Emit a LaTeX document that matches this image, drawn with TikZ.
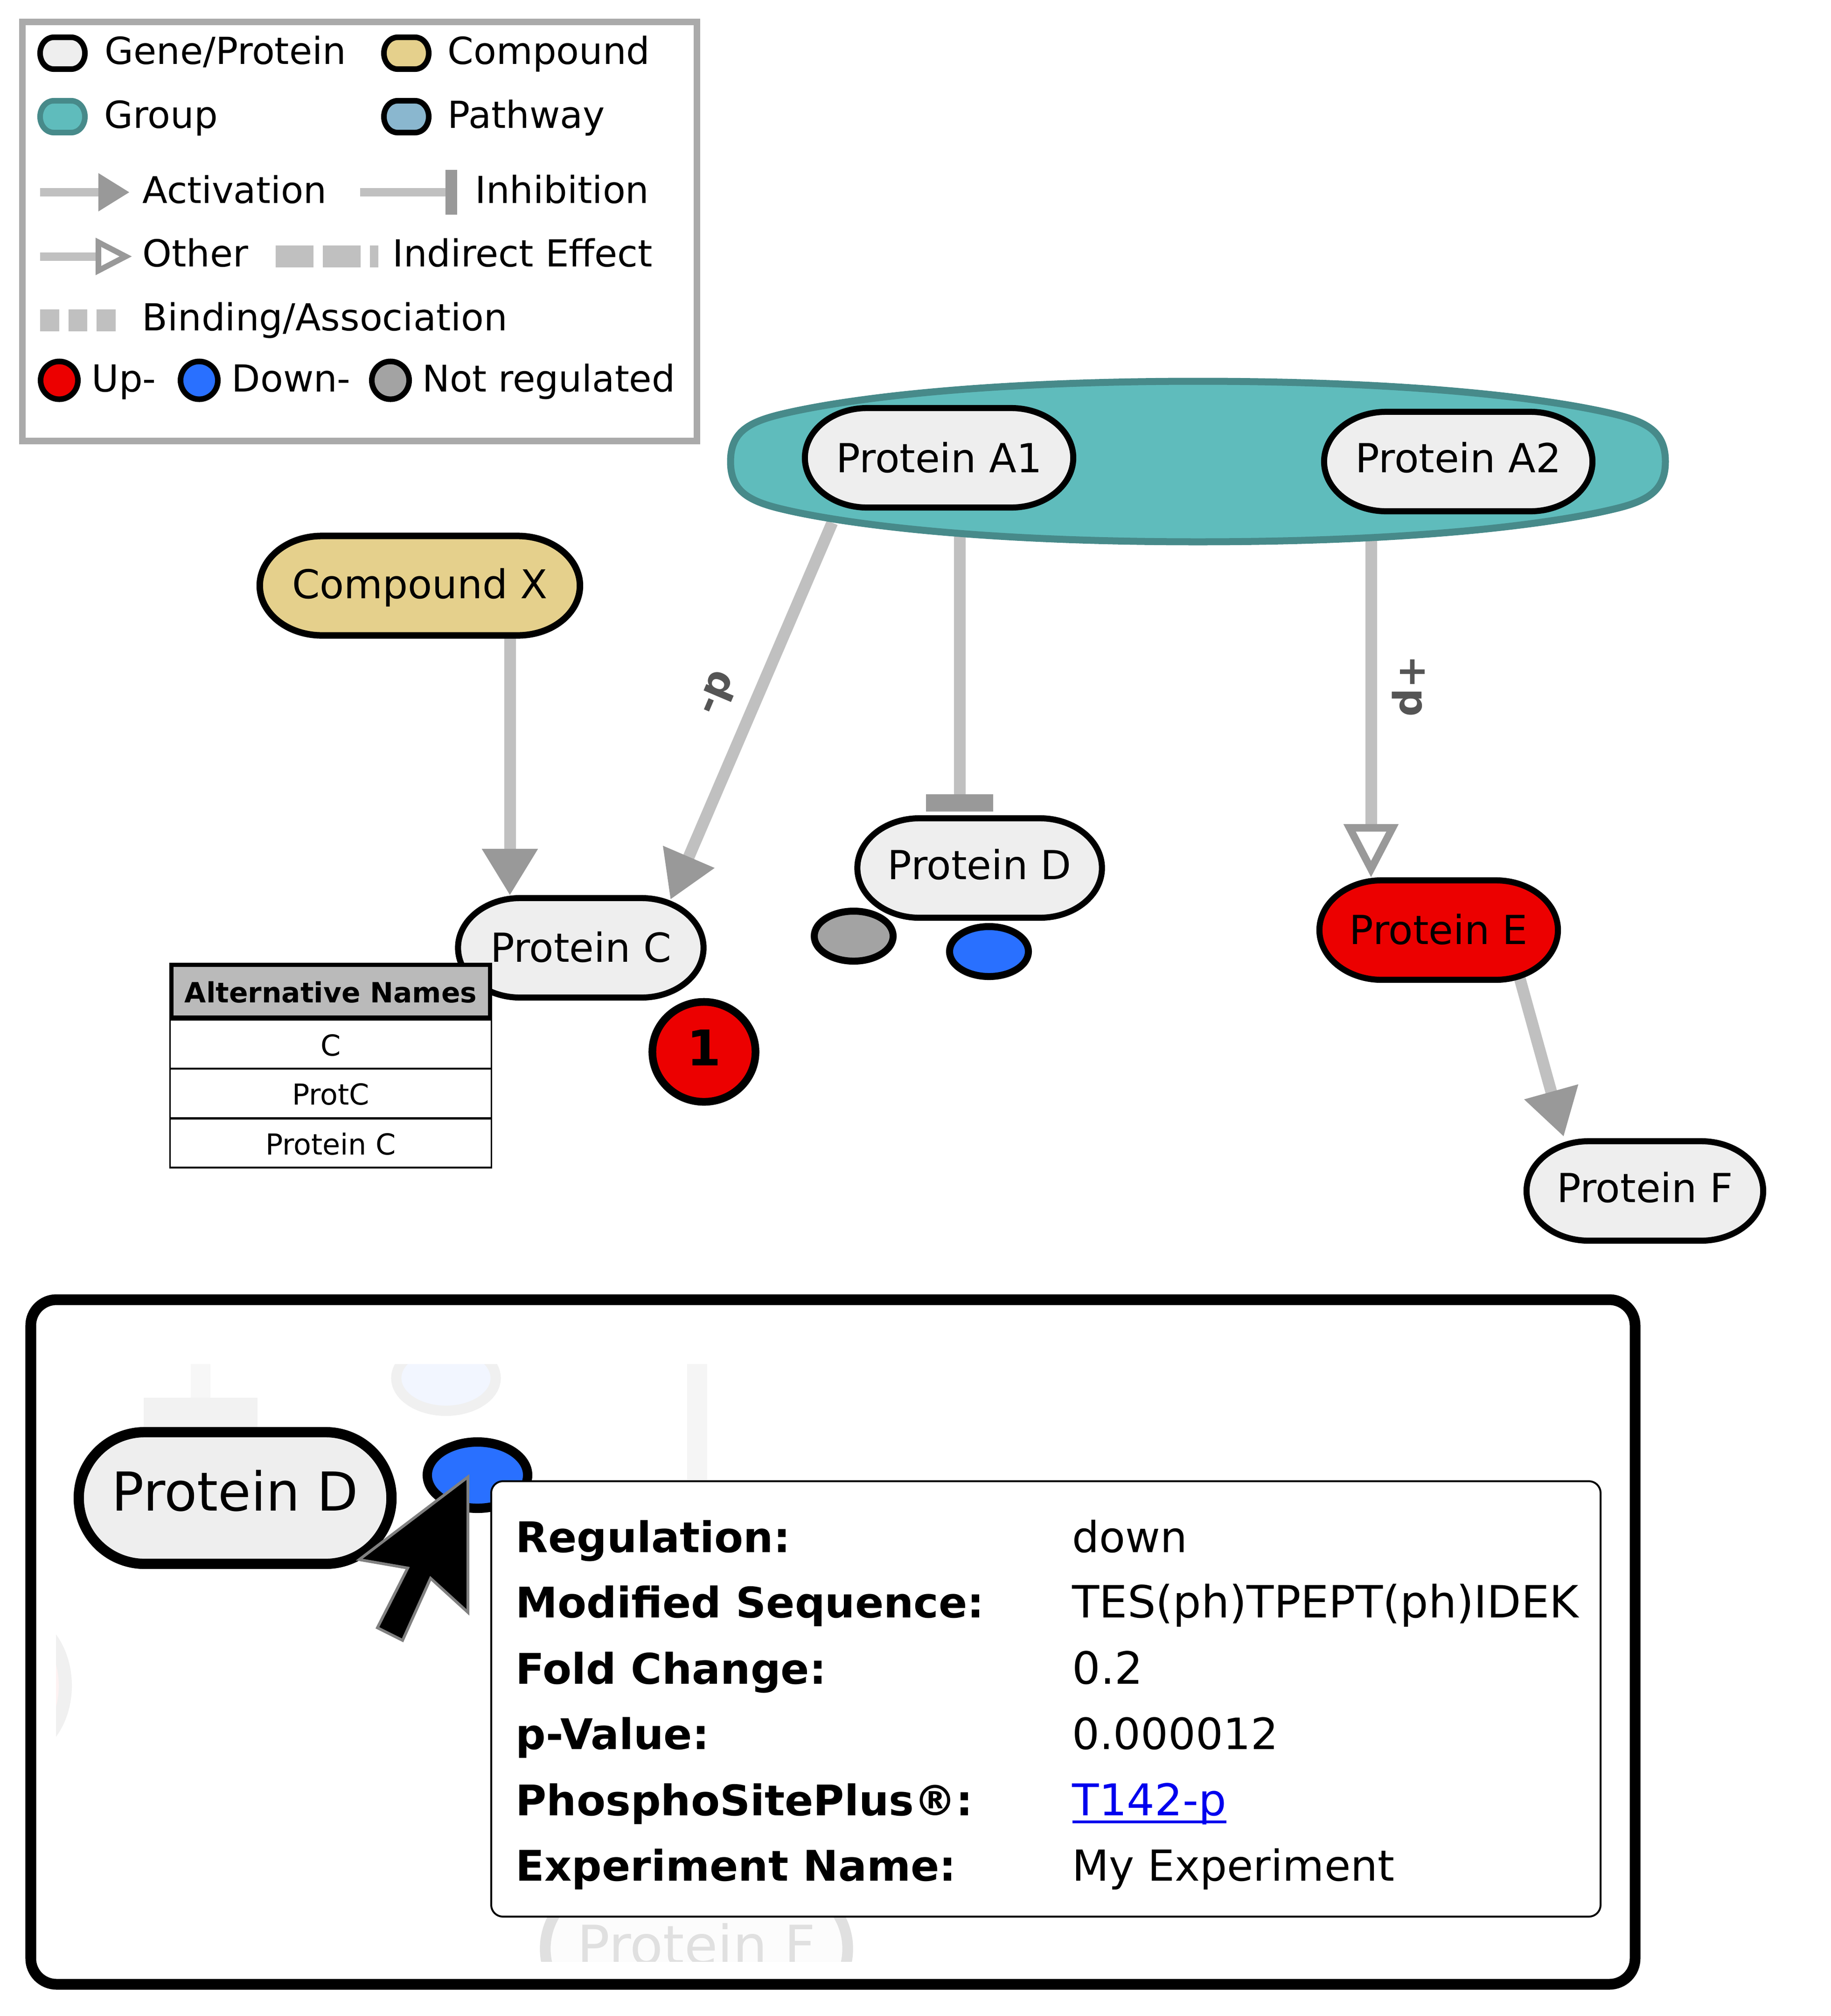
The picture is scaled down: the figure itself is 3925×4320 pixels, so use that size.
\documentclass[tikz,border=0pt]{standalone}
\usepackage{fontspec}
\setmainfont{DejaVu Sans}
\usetikzlibrary{arrows.meta,shapes.geometric}
\definecolor{nodegray}{HTML}{EEEEEE}
\definecolor{compoundtan}{HTML}{E5D08C}
\definecolor{groupteal}{HTML}{5FBCBC}
\definecolor{groupedge}{HTML}{478A8A}
\definecolor{pathwayblue}{HTML}{8AB7CF}
\definecolor{upred}{HTML}{EC0000}
\definecolor{downblue}{HTML}{2970FF}
\definecolor{notreg}{HTML}{A3A3A3}
\definecolor{linegray}{HTML}{C0C0C0}
\definecolor{headgray}{HTML}{999999}
\definecolor{framegray}{HTML}{AAAAAA}
\definecolor{labelgray}{HTML}{555555}
\definecolor{linkblue}{HTML}{0000EE}
\pgfdeclarelayer{edgelayer}
\pgfsetlayers{edgelayer,main}
\newcommand{\sizedfont}[1]{\fontsize{#1}{#1}\selectfont}
\newcommand{\linktext}[1]{\setbox0\hbox{#1}\rlap{\rule[-4.8pt]{\wd0}{1.7pt}}\box0}
\def\pillratio{1.25}
\newdimen\pillxa \newdimen\pillxb \newdimen\pillya \newdimen\pillyb \newdimen\pillrx \newdimen\pillry
\makeatletter
\pgfdeclareshape{pillbox}{
	\inheritsavedanchors[from=rectangle]
	\inheritanchorborder[from=rectangle]
	\inheritanchor[from=rectangle]{center}
	\inheritanchor[from=rectangle]{north}
	\inheritanchor[from=rectangle]{south}
	\inheritanchor[from=rectangle]{east}
	\inheritanchor[from=rectangle]{west}
	\backgroundpath{
		\southwest \pillxa=\pgf@x \pillya=\pgf@y
		\northeast \pillxb=\pgf@x \pillyb=\pgf@y
		\pillry=\pillyb \advance\pillry by -\pillya \pillry=0.5\pillry
		\pillrx=\pillratio\pillry
		\advance\pillxa by \pillrx \advance\pillxb by -\pillrx
		\pgfpathmoveto{\pgfqpoint{\pillxa}{\pillyb}}
		\pgfpatharc{90}{270}{\the\pillrx and \the\pillry}
		\pgfpathlineto{\pgfqpoint{\pillxb}{\pillya}}
		\pgfpatharc{-90}{90}{\the\pillrx and \the\pillry}
		\pgfpathclose
	}
}
\makeatother
\tikzset{
	pill ratio/.code={\def\pillratio{#1}},
	pill/.style={shape=pillbox, outer sep=0pt, draw=black, fill=nodegray, line width=1.3mm, inner sep=0pt,
		minimum width=#1, minimum height=21.3mm, text height=6.1mm, text depth=0.6mm, font=\sizedfont{24.4}},
	mark oval/.style={ellipse, draw=black, line width=1.5mm, inner sep=0pt, minimum width=16.9mm, minimum height=10.7mm},
	legend dot/.style={shape=pillbox, outer sep=0pt, pill ratio=0.85, draw=black, line width=1.2mm, inner sep=0pt, minimum width=9.6mm, minimum height=6.8mm},
	legend circ/.style={ellipse, draw=black, line width=1.2mm, inner sep=0pt, minimum width=8mm, minimum height=8.1mm},
	legend text/.style={anchor=base west, inner sep=0pt, font=\sizedfont{22.7}},
	edge line/.style={draw=linegray, line width=2.5mm},
	legend line/.style={draw=linegray, line width=1.8mm},
	activ/.style={edge line, -{Triangle[length=10mm,width=11.3mm,color=headgray]}},
	inhib/.style={edge line, -{Rectangle[length=3.7mm,width=14.3mm,color=headgray]}},
	other/.style={edge line, -{Triangle[open,length=11.4mm,width=11.4mm,line width=1.6mm,color=headgray,fill=white]}},
	edge label/.style={inner sep=0pt, text=labelgray, font=\sizedfont{24}\bfseries},
	alt cell/.style={draw=black, fill=white, line width=0.35mm, inner sep=0pt, minimum width=68.9mm, minimum height=10.5mm,
		text height=4.95mm, text depth=0pt, font=\sizedfont{17.6}},
	tip key/.style={anchor=base west, inner sep=0pt, font=\sizedfont{25.7}\bfseries},
	tip val/.style={anchor=base west, inner sep=0pt, font=\sizedfont{27.1}},
}
\begin{document}
\begin{tikzpicture}[x=0.01cm, y=-0.01cm]
	%%%%% START %%%%%
	\useasboundingbox (0, 0) rectangle (3925, 4320);

	%%%%% legend %%%%%
	\draw[line width=1.4mm, color=framegray] (48, 47) rectangle (1494, 945);

	\node[legend dot, fill=nodegray] (legGene) at (134, 114) {};
	\node[legend text] (legGeneText) at (224, 137) {Gene/Protein};
	\node[legend dot, fill=compoundtan] (legComp) at (871, 114) {};
	\node[legend text] (legCompText) at (959, 137) {Compound};
	\node[legend dot, fill=groupteal, draw=groupedge] (legGroup) at (134, 250) {};
	\node[legend text] (legGroupText) at (223, 274) {Group};
	\node[legend dot, fill=pathwayblue] (legPath) at (871, 250) {};
	\node[legend text] (legPathText) at (959, 274) {Pathway};

	\coordinate (legActA) at (86, 412);
	\coordinate (legActB) at (278, 412);
	\draw[legend line, -{Triangle[length=6.7mm,width=7.7mm,color=headgray]}] (legActA) -- (legActB);
	\node[legend text, font=\sizedfont{22.4}] (legActText) at (305, 435) {Activation};
	\coordinate (legInhA) at (772, 412);
	\coordinate (legInhB) at (980, 412);
	\draw[legend line, -{Rectangle[length=2.5mm,width=9.5mm,color=headgray]}] (legInhA) -- (legInhB);
	\node[legend text] (legInhText) at (1018, 435) {Inhibition};
	\coordinate (legOthA) at (86, 549.5);
	\coordinate (legOthB) at (283, 549.5);
	\draw[legend line, -{Triangle[open,length=7.8mm,width=7.7mm,line width=1.2mm,color=headgray,fill=white]}] (legOthA) -- (legOthB);
	\node[legend text] (legOthText) at (305, 571) {Other};
	\coordinate (legIndA) at (591, 549.5);
	\coordinate (legIndB) at (811, 549.5);
	\draw[color=linegray, line width=4.7mm, dash pattern=on 8.1mm off 2mm] (legIndA) -- (legIndB);
	\node[legend text] (legIndText) at (841, 571) {Indirect Effect};
	\coordinate (legBindA) at (86, 686.5);
	\coordinate (legBindB) at (248, 686.5);
	\draw[color=linegray, line width=4.7mm, dash pattern=on 4.05mm off 2mm] (legBindA) -- (legBindB);
	\node[legend text] (legBindText) at (304, 708) {Binding/Association};

	\node[legend circ, fill=upred] (legUp) at (127, 815) {};
	\node[legend text] (legUpText) at (196, 839) {Up-};
	\node[legend circ, fill=downblue] (legDown) at (427, 815) {};
	\node[legend text] (legDownText) at (496, 839) {Down-};
	\node[legend circ, fill=notreg] (legNot) at (837, 815) {};
	\node[legend text, font=\sizedfont{22.4}] (legNotText) at (905, 839) {Not regulated};

	%%%%% group %%%%%
	\draw[fill=groupteal, draw=groupedge, line width=1.5mm, shift={(2568, 989)}]
		(-1002, 0) .. controls (-1002, -62) and (-965, -84) .. (-895, -101)
		.. controls (-780, -129) and (-500, -172) .. (0, -172)
		.. controls (500, -172) and (780, -129) .. (895, -101)
		.. controls (965, -84) and (1002, -62) .. (1002, 0)
		.. controls (1002, 62) and (965, 84) .. (895, 101)
		.. controls (780, 129) and (500, 172) .. (0, 172)
		.. controls (-500, 172) and (-780, 129) .. (-895, 101)
		.. controls (-965, 84) and (-1002, 62) .. (-1002, 0) -- cycle;

	%%%%% graph nodes %%%%%
	\node[pill=57.5mm, text height=6.2mm, text depth=0pt] (proteinAone) at (2013, 981) {Protein A1};
	\node[pill=57.5mm, text depth=1.5mm] (proteinAtwo) at (3126, 989) {Protein A2};
	\node[pill=68.6mm, fill=compoundtan, line width=1.4mm, font=\sizedfont{24.2}] (compoundX) at (900, 1255) {Compound X};
	\node[pill=52.6mm, text depth=0pt] (proteinC) at (1245, 2031) {Protein C};
	\node[pill=52.4mm, text depth=1.2mm] (proteinD) at (2100, 1860) {Protein D};
	\node[pill=51.1mm, fill=upred, text depth=0pt] (proteinE) at (3084, 1993) {Protein E};
	\node[pill=50.7mm, text depth=1.2mm] (proteinF) at (3526, 2552) {Protein F};

	\node[mark oval, fill=notreg] (markGray) at (1830, 2006) {};
	\node[mark oval, fill=downblue] (markBlue) at (2120, 2039) {};
	\node[ellipse, draw=black, fill=upred, line width=1.65mm, inner sep=0pt, minimum width=22.1mm, minimum height=21.4mm,
		text height=7.8mm, text depth=2mm, font=\sizedfont{30}\bfseries] (countC) at (1509, 2254) {1};

	%%%%% alternative names %%%%%
	\node[alt cell] (altC) at (709, 2237.5) {C};
	\node[alt cell] (altProtC) at (709, 2343) {ProtC};
	\node[alt cell] (altProteinC) at (709, 2449.5) {Protein C};
	\node[draw=black, fill=black!27, line width=0.9mm, inner sep=0pt, minimum width=68.3mm, minimum height=11.3mm,
		text height=4.95mm, text depth=0pt, font=\sizedfont{17}\bfseries] (altHead) at (709, 2124) {Alternative Names};

	%%%%% edges %%%%%
	\coordinate (tipXC) at (1093, 1919);
	\coordinate (groupOne) at (1784, 1120);
	\coordinate (tipAC) at (1437, 1928);
	\coordinate (groupTwo) at (2057, 1150);
	\coordinate (tipAD) at (2057, 1739);
	\coordinate (groupThree) at (2939, 1150);
	\coordinate (tipAE) at (2939, 1880);
	\coordinate (startEF) at (3256, 2090);
	\coordinate (tipEF) at (3352, 2436);
	\begin{pgfonlayer}{edgelayer}
		\draw[activ] (compoundX.south -| tipXC) -- (tipXC);
		\draw[activ] (groupOne) -- (tipAC);
		\draw[inhib] (groupTwo) -- (tipAD);
		\draw[other] (groupThree) -- (tipAE);
		\draw[activ] (startEF) -- (tipEF);
	\end{pgfonlayer}
	\node[edge label, rotate=67] (labelMinus) at (1540, 1487) {-p};
	\node[edge label, rotate=-90] (labelPlus) at (3019, 1470) {+p};

	%%%%% inset %%%%%
	\draw[line width=2.3mm, rounded corners=5.5mm] (66, 2785) rectangle (3505, 4252);

	\begin{scope}
		\clip (120, 2923) rectangle (3400, 4203);
		\fill[color=black!3] (409, 2923) rectangle (451, 2995);
		\fill[color=black!5] (308, 2995) rectangle (552, 3058);
		\fill[color=black!4] (1473, 2923) rectangle (1516, 3200);
		\node[ellipse, draw=black!6, fill=downblue!6, line width=2.2mm, inner sep=0pt, minimum width=21.3mm, minimum height=14mm] (fadeBlue) at (956, 2953) {};
		\node[ellipse, draw=black!6, fill=upred!5, line width=2.8mm, inner sep=0pt, minimum width=22mm, minimum height=29mm] (fadeRed) at (30, 3612) {};
		\node[shape=pillbox, outer sep=0pt, pill ratio=1, draw=black!12, fill=black!1, text=black!12, line width=2.3mm, inner sep=0pt, minimum width=64.8mm, minimum height=28.2mm,
			text height=8.2mm, text depth=1.6mm, font=\sizedfont{33}] (fadeF) at (1493, 4176) {Protein F};
	\end{scope}

	\node[shape=pillbox, outer sep=0pt, pill ratio=1, draw=black, fill=nodegray, line width=2.2mm, inner sep=0pt, minimum width=67mm, minimum height=28.2mm,
		text height=8.2mm, text depth=2.8mm, font=\sizedfont{32.7}] (zoomD) at (504, 3210) {Protein D};
	\node[ellipse, draw=black, fill=downblue, line width=2mm, inner sep=0pt, minimum width=21.5mm, minimum height=14.2mm] (zoomBlue) at (1023.5, 3161) {};

	\draw[fill=white, line width=0.4mm, rounded corners=2.5mm] (1053, 3174) rectangle (3431, 4107);
	\node[tip key] (keyReg) at (1105, 3326) {Regulation:};
	\node[tip val, font=\sizedfont{26}] (valReg) at (2298, 3326) {down};
	\node[tip key] (keySeq) at (1105, 3466) {Modified Sequence:};
	\node[tip val] (valSeq) at (2298, 3466) {TES(ph)TPEPT(ph)IDEK};
	\node[tip key] (keyFold) at (1105, 3608) {Fold Change:};
	\node[tip val] (valFold) at (2298, 3608) {0.2};
	\node[tip key] (keyP) at (1105, 3748) {p-Value:};
	\node[tip val, font=\sizedfont{26.3}] (valP) at (2298, 3748) {0.000012};
	\node[tip key] (keySite) at (1105, 3890) {PhosphoSitePlus®:};
	\node[tip val, text=linkblue, font=\sizedfont{26.7}] (valSite) at (2298, 3890) {\linktext{T142-p}};
	\node[tip key] (keyExp) at (1105, 4030) {Experiment Name:};
	\node[tip val, font=\sizedfont{26}] (valExp) at (2298, 4030) {My Experiment};

	\draw[fill=black, draw=black!50, line width=0.6mm, line join=miter]
		(1003, 3165) -- (1003, 3455) -- (923, 3382) -- (863, 3515) -- (809, 3488) -- (874, 3360) -- (770, 3342) -- cycle;
	%%%%% END %%%%%
\end{tikzpicture}
\end{document}
